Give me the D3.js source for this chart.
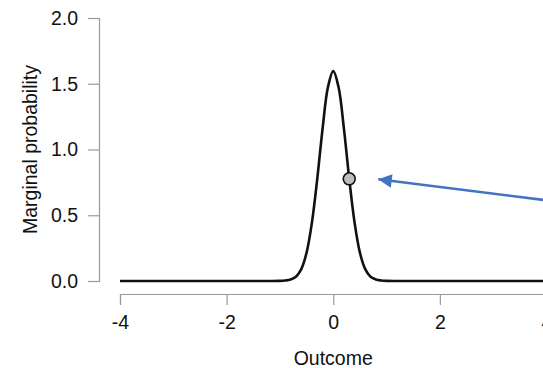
<!DOCTYPE html>
<html>
<head>
<meta charset="utf-8">
<script src="https://cdn.jsdelivr.net/npm/d3@7"></script>
<style>
  body { margin: 0; background: #fff; }
  svg { display: block; font-family: "Liberation Sans", Arial, sans-serif; }
</style>
</head>
<body>
<div id="chart"></div>
<script>
// curve
var curveX = [-4, -2, -1.2, -1.0, -0.9, -0.8, -0.7, -0.6, -0.5, -0.4, -0.3, -0.2, -0.1, 0,
              0.1, 0.2, 0.3, 0.4, 0.5, 0.6, 0.7, 0.8, 0.9, 1.0, 1.2, 2, 4]
var curveY = [0, 0, 0, 0.001, 0.004, 0.011, 0.032, 0.09, 0.216, 0.444, 0.777, 1.159, 1.473, 1.596,
              1.473, 1.159, 0.777, 0.444, 0.216, 0.09, 0.032, 0.011, 0.004, 0.001, 0, 0, 0]
var markedPoint = {x: 0.3, y: 0.777}
var xTicks = [-4, -2, 0, 2, 4]
var yTicks = [0, 0.5, 1, 1.5, 2]

var W = 543, H = 368
var fs = 19.5
var svg = d3.select('#chart').append('svg').attr('width', W).attr('height', H)

var x = d3.scaleLinear().domain([-4, 4]).range([120, 546.5])
var y = d3.scaleLinear().domain([0, 2]).range([281, 18])

var axisColor = '#9a9a9a'

// y axis
var gy = svg.append('g').attr('transform', 'translate(99,0)')
  .call(d3.axisLeft(y).tickValues(yTicks).tickFormat(d3.format('.1f')).tickSizeOuter(0).tickSize(11).tickPadding(10))
gy.select('.domain').attr('stroke', axisColor).attr('stroke-width', 1.2)
gy.selectAll('.tick line').attr('stroke', axisColor).attr('stroke-width', 1.2)
gy.selectAll('.tick text').attr('font-size', fs).attr('fill', '#111')
  .style('font-family', '"Liberation Sans", Arial, sans-serif')

// x axis
var gx = svg.append('g').attr('transform', 'translate(0,294)')
  .call(d3.axisBottom(x).tickValues(xTicks).tickFormat(function (d) { return String(d) })
    .tickSizeOuter(0).tickSize(11).tickPadding(10))
gx.select('.domain').attr('stroke', axisColor).attr('stroke-width', 1.2)
gx.selectAll('.tick line').attr('stroke', axisColor).attr('stroke-width', 1.2)
gx.selectAll('.tick text').attr('font-size', fs).attr('fill', '#111')
  .style('font-family', '"Liberation Sans", Arial, sans-serif')

// axis titles
svg.append('text').attr('x', x(0)).attr('y', 365).attr('text-anchor', 'middle')
  .attr('font-size', fs).attr('fill', '#111').text('Outcome')
svg.append('text').attr('transform', 'translate(37,' + y(1) + ') rotate(-90)')
  .attr('text-anchor', 'middle').attr('font-size', fs).attr('fill', '#111').text('Marginal probability')

// density curve
var pts = curveX.map(function (d, i) { return [d, curveY[i]] })
svg.append('path').datum(pts)
  .attr('fill', 'none').attr('stroke', '#111').attr('stroke-width', 2.6)
  .attr('stroke-linejoin', 'round')
  .attr('d', d3.line().curve(d3.curveCatmullRom.alpha(0.5))
    .x(function (d) { return x(d[0]) }).y(function (d) { return y(d[1]) }))

// point on curve
svg.append('circle').attr('cx', x(markedPoint.x)).attr('cy', y(markedPoint.y)).attr('r', 6)
  .attr('fill', '#bdbdbd').attr('stroke', '#111').attr('stroke-width', 1.6)

// arrow pointing at the point
var defs = svg.append('defs')
defs.append('marker').attr('id', 'arrowHead').attr('viewBox', '0 0 10 10')
  .attr('refX', 10).attr('refY', 5).attr('markerWidth', 6).attr('markerHeight', 5.4)
  .attr('markerUnits', 'strokeWidth').attr('orient', 'auto')
  .append('path').attr('d', 'M0,0 L10,5 L0,10 Z').attr('fill', '#4472c4')

svg.append('line')
  .attr('x1', 560).attr('y1', 202)
  .attr('x2', x(markedPoint.x) + 29).attr('y2', y(markedPoint.y) + 0.5)
  .attr('stroke', '#4472c4').attr('stroke-width', 2.5)
  .attr('marker-end', 'url(#arrowHead)')
</script>
</body>
</html>
